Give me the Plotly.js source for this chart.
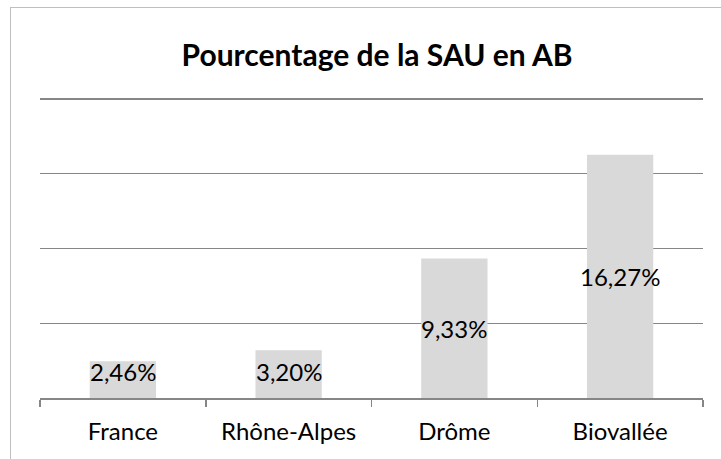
<!DOCTYPE html>
<html>
<head>
<meta charset="utf-8">
<script src="https://cdn.plot.ly/plotly-3.0.1.min.js"></script>
<style>
html,body{margin:0;padding:0;overflow:hidden;background:#fff;}
#chart{position:absolute;left:0;top:0;width:721px;height:459px;}
#frame{position:absolute;left:10px;top:7px;width:900px;height:700px;border:1.5px solid #bfbfbf;pointer-events:none;}
</style>
</head>
<body>
<div id="chart"></div>
<div id="frame"></div>
<script>
const categories = ["France", "Rhône-Alpes", "Drôme", "Biovallée"];
const values = [2.46, 3.20, 9.33, 16.27];
const valueLabels = ["2,46%", "3,20%", "9,33%", "16,27%"];

const FONT = "Lato, 'Liberation Sans', sans-serif";

const trace = {
  type: "bar",
  x: categories,
  y: values,
  marker: {color: "#d9d9d9"},
  textposition: "none",
  hoverinfo: "skip"
};

const annotations = categories.map((c, i) => ({
  x: c, y: Math.max(values[i] / 2, 1.75), xref: "x", yref: "y",
  text: valueLabels[i], showarrow: false,
  xanchor: "center", yanchor: "middle",
  font: {family: FONT, size: 24, color: "#000"}
}));

const layout = {
  width: 721, height: 459,
  margin: {l: 40, r: 18, t: 96, b: 61},
  paper_bgcolor: "#fff", plot_bgcolor: "#fff",
  showlegend: false,
  bargap: 0.6,
  title: {
    text: "<b>Pourcentage de la SAU en AB</b>",
    font: {family: FONT, size: 30, color: "#000"},
    x: 0.523, xanchor: "center", y: 0.878, yanchor: "middle"
  },
  xaxis: {
    type: "category",
    showline: true, linecolor: "#868686", linewidth: 1.5,
    ticks: "outside", tickson: "boundaries", ticklen: 7, tickcolor: "#868686", tickwidth: 1.5,
    tickfont: {family: FONT, size: 24, color: "#000"},
    ticklabelstandoff: 12,
    showgrid: false, zeroline: false
  },
  yaxis: {
    range: [0, 20.2], dtick: 5, tick0: 0,
    showticklabels: false, ticks: "",
    showgrid: true, gridcolor: "#868686", gridwidth: 1.5,
    zeroline: false, showline: false, fixedrange: true
  },
  annotations: annotations
};

Plotly.newPlot("chart", [trace], layout, {displayModeBar: false, staticPlot: true});
</script>
</body>
</html>
